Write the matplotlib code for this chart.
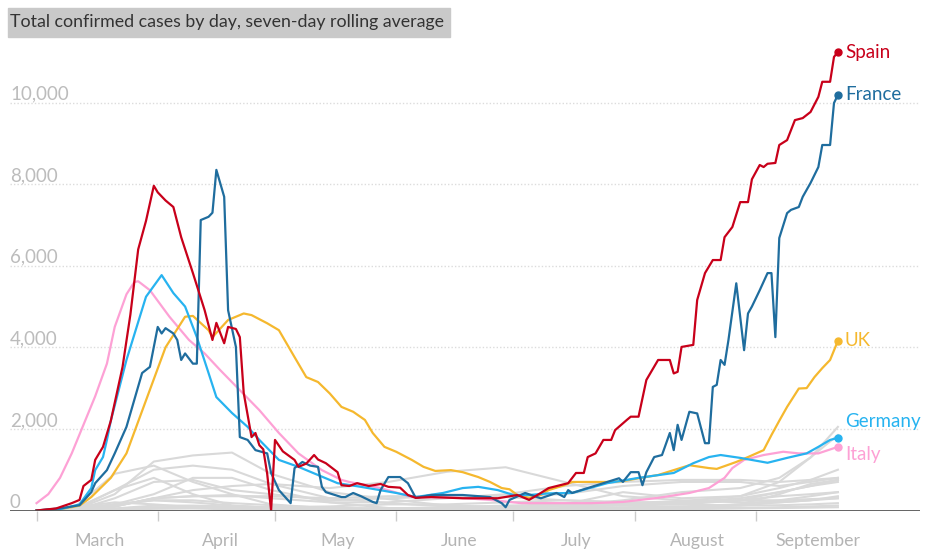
import numpy as np
import matplotlib
matplotlib.use('Agg')
import matplotlib.pyplot as plt
import matplotlib.transforms as mtransforms
from matplotlib.patches import Rectangle

plt.rcParams['font.family'] = ['Lato', 'DejaVu Sans']

START = np.datetime64('2020-03-01')

# days after 1 March 2020, seven-day average of new cases
spain_days = [0, 5, 9, 11, 12, 14, 15, 17, 19, 22, 24, 26, 28, 30, 31, 33, 35, 37, 40, 43,
              45, 46, 48, 49, 51, 52, 53, 55, 56, 57, 58, 59, 60, 61, 63, 66, 67, 69, 71, 72,
              74, 77, 78, 80, 82, 85, 88, 90, 93, 95, 97, 101, 109, 118, 123, 126, 129, 131,
              136, 138, 140, 141, 143, 145, 147, 148, 151, 152, 154, 156, 159, 162, 163, 164,
              165, 168, 169, 171, 173, 175, 176, 178, 180, 182, 183, 185, 186, 187, 189, 190,
              192, 194, 196, 198, 200, 201, 203, 204, 205]
spain_cases = [0, 50, 180, 260, 600, 750, 1240, 1560, 2200, 3520, 4800, 6400, 7100, 7960, 7800,
               7600, 7440, 6700, 5820, 4910, 4180, 4600, 4100, 4500, 4450, 4250, 2880, 1800,
               1900, 1600, 1500, 900, 0, 1730, 1450, 1240, 1070, 1150, 1360, 1250, 1160, 940,
               620, 600, 670, 600, 650, 580, 560, 380, 310, 330, 300, 300, 380, 260, 430, 550,
               670, 920, 920, 1310, 1400, 1730, 1730, 1970, 2220, 2300, 2300, 3200, 3690, 3690,
               3360, 3400, 4010, 4060, 5160, 5820, 6140, 6140, 6700, 6950, 7560, 7560, 8120,
               8470, 8420, 8500, 8520, 8960, 9080, 9570, 9620, 9770, 10140, 10510, 10510,
               11120, 11240]

france_days = [0, 6, 11, 14, 15, 18, 20, 23, 27, 29, 31, 32, 33, 35, 36, 37, 38, 40, 41, 42,
               44, 45, 46, 48, 49, 51, 52, 54, 56, 59, 60, 62, 65, 66, 68, 70, 72, 73, 74, 78,
               79, 81, 83, 86, 87, 88, 90, 93, 95, 97, 101, 109, 116, 119, 120, 121, 125, 128,
               129, 133, 135, 136, 137, 142, 146, 149, 150, 152, 154, 155, 156, 158, 160, 162,
               163, 164, 165, 167, 169, 171, 172, 173, 174, 175, 176, 177, 179, 181, 182, 183,
               185, 187, 188, 189, 190, 192, 193, 195, 196, 198, 200, 201, 203, 204, 205]
france_cases = [0, 50, 130, 450, 670, 990, 1400, 2050, 3370, 3520, 4500, 4340, 4470, 4340,
                4180, 3690, 3850, 3600, 3600, 7120, 7200, 7300, 8350, 7690, 4910, 4010, 1800,
                1730, 1480, 1400, 920, 500, 180, 1040, 1190, 1100, 1070, 580, 450, 330, 330,
                430, 350, 210, 180, 500, 820, 820, 670, 310, 380, 380, 330, 180, 80, 260, 430,
                330, 300, 430, 330, 500, 430, 580, 700, 790, 700, 940, 940, 620, 940, 1310, 1360,
                1900, 1480, 2100, 1730, 2420, 2380, 1650, 1650, 3030, 3080, 3690, 3570, 4180,
                5570, 3930, 4830, 5000, 5400, 5820, 5820, 4250, 6680, 7290, 7370, 7440, 7690,
                8030, 8420, 8960, 8960, 9990, 10190]

germany_days = [0, 6, 11, 14, 15, 17, 18, 19, 23, 28, 32, 35, 38, 41, 44, 46, 50, 54, 57, 62,
                67, 72, 77, 83, 92, 97, 104, 109, 113, 118, 122, 126, 131, 137, 146, 154, 163,
                168, 172, 175, 180, 187, 192, 197, 200, 203, 205]
germany_cases = [0, 30, 150, 550, 990, 1310, 1730, 2200, 3690, 5240, 5770, 5330, 5000, 4250,
                 3370, 2780, 2390, 2050, 1730, 1240, 1070, 870, 670, 580, 430, 330, 430, 550,
                 580, 500, 380, 380, 420, 430, 670, 800, 920, 1160, 1310, 1360, 1290, 1170, 1290,
                 1400, 1560, 1730, 1780]

italy_days = [0, 3, 6, 9, 12, 15, 18, 20, 23, 25, 26, 29, 34, 39, 43, 47, 52, 57, 62, 67, 73,
              78, 80, 88, 96, 108, 116, 124, 133, 142, 150, 159, 167, 172, 176, 178, 181, 186,
              191, 195, 200, 205]
italy_cases = [180, 400, 800, 1400, 2100, 2800, 3600, 4500, 5300, 5600, 5620, 5400, 4750,
               4180, 3850, 3440, 2950, 2460, 1900, 1400, 990, 750, 700, 550, 330, 310, 260, 180,
               180, 180, 210, 310, 430, 550, 800, 1040, 1240, 1360, 1440, 1400, 1400, 1560]

uk_days = [0, 6, 11, 14, 19, 23, 28, 33, 38, 40, 44, 45, 49, 53, 55, 59, 62, 66, 69, 72, 75,
           78, 81, 84, 86, 89, 92, 96, 99, 102, 106, 109, 113, 116, 119, 121, 123, 126, 129,
           131, 135, 137, 142, 146, 150, 154, 159, 163, 167, 172, 174, 179, 182, 186, 188, 190,
           192, 195, 197, 199, 201, 203, 205]
uk_cases = [0, 30, 120, 330, 800, 1400, 2700, 4000, 4750, 4770, 4420, 4250, 4670, 4830, 4790,
            4590, 4420, 3760, 3270, 3150, 2870, 2540, 2420, 2220, 1900, 1560, 1440, 1240, 1070,
            970, 990, 940, 820, 700, 550, 520, 380, 310, 380, 500, 620, 700, 700, 700, 720, 790,
            870, 990, 1110, 1040, 1020, 1190, 1310, 1480, 1850, 2200, 2540, 2990, 3000, 3270,
            3490, 3690, 4160]

# other European countries, sampled on a coarser set of days
others_days = [0, 10, 20, 30, 40, 50, 60, 75, 90, 105, 120, 135, 150, 165, 180, 190, 198, 205]
belgium = [0, 30, 400, 1200, 1350, 1420, 900, 450, 280, 120, 90, 150, 450, 300, 350, 550, 750, 1000]
netherlands = [0, 50, 500, 1000, 1100, 1000, 650, 300, 180, 100, 60, 120, 250, 450, 550, 800, 1300, 1850]
czechia = [0, 5, 150, 250, 200, 120, 70, 60, 50, 80, 120, 150, 180, 230, 350, 700, 1300, 2050]
sweden = [0, 30, 100, 300, 500, 600, 650, 550, 700, 950, 1060, 700, 350, 250, 200, 200, 250, 350]
switzerland = [0, 100, 900, 1100, 700, 400, 150, 50, 20, 20, 60, 120, 150, 200, 250, 350, 400, 450]
portugal = [0, 10, 300, 700, 750, 500, 400, 250, 300, 350, 330, 250, 200, 200, 300, 450, 600, 700]
austria = [0, 40, 500, 800, 400, 120, 60, 40, 50, 40, 80, 100, 120, 150, 250, 450, 600, 750]
ireland = [0, 5, 150, 400, 800, 800, 500, 200, 60, 15, 15, 20, 50, 80, 120, 200, 250, 300]
poland = [0, 5, 100, 300, 350, 350, 350, 300, 350, 350, 350, 400, 600, 700, 700, 600, 700, 800]
romania = [0, 10, 100, 300, 350, 380, 300, 200, 200, 300, 400, 600, 700, 750, 750, 700, 750, 800]
denmark = [0, 60, 150, 250, 250, 180, 130, 60, 40, 30, 30, 50, 80, 100, 150, 250, 350, 450]
norway = [0, 80, 200, 150, 80, 50, 30, 15, 10, 10, 15, 20, 50, 60, 60, 80, 100, 120]
finland = [0, 5, 50, 120, 120, 100, 80, 40, 20, 10, 10, 10, 20, 30, 50, 60, 70, 80]
greece = [0, 10, 50, 80, 60, 20, 10, 10, 15, 20, 30, 60, 150, 200, 250, 250, 280, 300]
hungary = [0, 2, 30, 70, 90, 80, 50, 30, 20, 10, 10, 20, 30, 50, 150, 400, 650, 750]
bulgaria = [0, 5, 20, 40, 50, 60, 80, 100, 150, 150, 200, 250, 200, 150, 120, 130, 150, 180]
others = [belgium, netherlands, czechia, sweden, switzerland, portugal, austria, ireland,
          poland, romania, denmark, norway, finland, greece, hungary, bulgaria]

highlighted = [
    # name, days, cases, colour, label value
    ('Italy', italy_days, italy_cases, '#fda1d5', 1370),
    ('UK', uk_days, uk_cases, '#f5b82e', None),
    ('Germany', germany_days, germany_cases, '#27b3f0', 2170),
    ('France', france_days, france_cases, '#1f6d9e', None),
    ('Spain', spain_days, spain_cases, '#c8001a', None),
]

months = ['March', 'April', 'May', 'June', 'July', 'August', 'September']
month_starts = np.arange('2020-03', '2020-10', dtype='datetime64[M]').astype('datetime64[D]')


def to_dates(days):
    return START + np.array(days).astype('timedelta64[D]')


fig = plt.figure(figsize=(9.25, 5.49), dpi=100)
ax = fig.add_axes([10 / 925, 38.5 / 549, 910 / 925, 489.5 / 549])

for vals in others:
    ax.plot(to_dates(others_days), vals, color='#d9d9d9', lw=1.5, zorder=1)

for name, days, cases, col, lab_y in highlighted:
    x = to_dates(days)
    ax.plot(x, cases, color=col, lw=1.6, zorder=3, solid_joinstyle='round')
    ax.plot(x[-1], cases[-1], 'o', color=col, ms=5, zorder=4, clip_on=False)
    ax.annotate(name, (x[-1], lab_y if lab_y else cases[-1]), xytext=(5, 0),
                textcoords='offset points', va='center', ha='left', color=col, fontsize=13.5)

# grid lines and value labels
ylab = mtransforms.blended_transform_factory(ax.transAxes, ax.transData)
for v in range(0, 12000, 2000):
    if v:
        ax.axhline(v, color='#dcdcdc', lw=1, ls=(0, (1, 1.5)), zorder=0)
    ax.text(0, v, f'{v:,}', transform=ylab, ha='left', va='bottom', color='#bcbcbc',
            fontsize=13.5)
ax.axhline(0, color='#555555', lw=2, zorder=5)

ax.set_xlim(START - np.timedelta64(163, 'h'), START + np.timedelta64(5424, 'h'))
ax.set_ylim(0, 12000)
ax.set_yticks([])
ax.set_xticks(month_starts)
ax.set_xticklabels([])
ax.set_xticks(month_starts + np.timedelta64(16, 'D'), minor=True)
ax.set_xticklabels(months, minor=True)
ax.tick_params(axis='x', which='major', length=7, width=1, color='#cccccc')
ax.tick_params(axis='x', which='minor', length=0, pad=16, labelsize=12.8, labelcolor='#b4b4b4')
for s in ax.spines.values():
    s.set_visible(False)

# title on a grey band
fig.patches.append(Rectangle((8 / 925, 1 - 37 / 549), 442 / 925, 29 / 549,
                             transform=fig.transFigure, color='#c9c9c9', zorder=0))
fig.text(10 / 925, 1 - 22.5 / 549, 'Total confirmed cases by day, seven-day rolling average',
         va='center', ha='left', color='#333333', fontsize=12.8)

fig.savefig('out.png', dpi=100)
